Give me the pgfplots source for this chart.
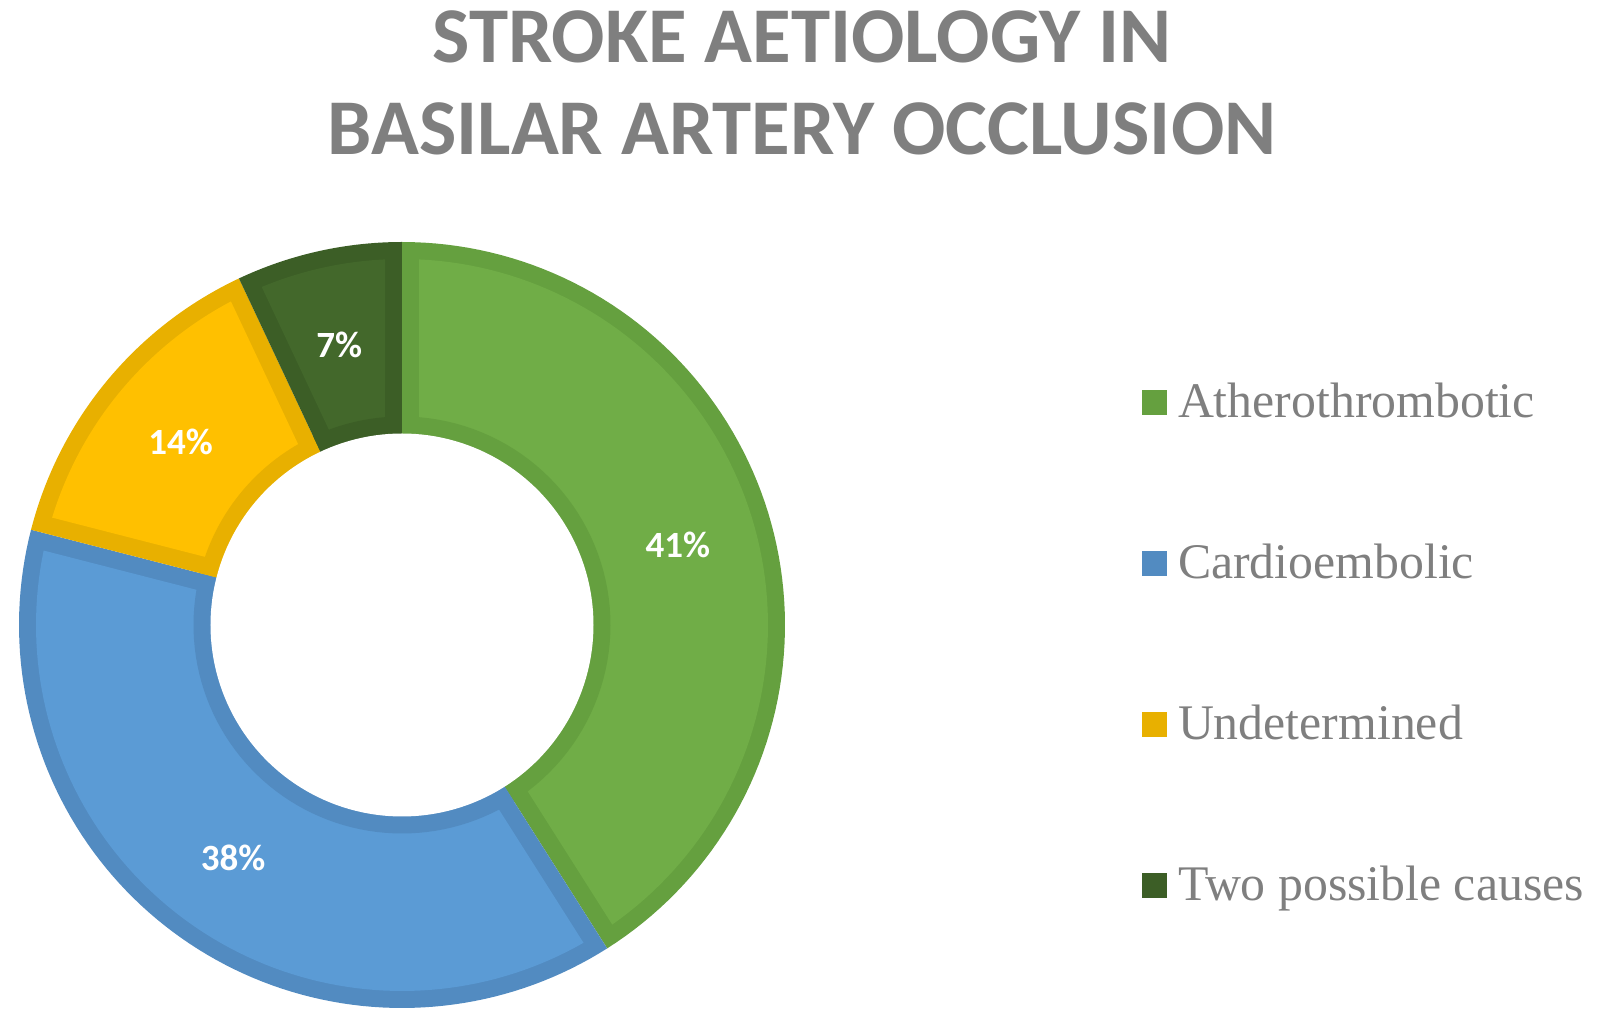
\documentclass[border=0pt]{standalone}
\usepackage{fontspec}
\setmainfont{Liberation Serif}
\newfontfamily\carlito{Carlito}
\usepackage{pgfplots}
\pgfplotsset{compat=1.18}
\usepgfplotslibrary{polar}

\definecolor{athFill}{HTML}{70AD47}
\definecolor{athLine}{HTML}{65A03F}
\definecolor{carFill}{HTML}{5B9BD5}
\definecolor{carLine}{HTML}{528BC1}
\definecolor{undFill}{HTML}{FFC000}
\definecolor{undLine}{HTML}{E8B000}
\definecolor{twoFill}{HTML}{43682B}
\definecolor{twoLine}{HTML}{3C5E26}
\definecolor{txt}{HTML}{7F7F7F}

% ring geometry, outer radius = 1
\def\rin{0.5}     % hole
\def\bw{0.0444}   % border width
\pgfmathsetmacro\dd{asin(\bw/(1-\bw))}

% slice from angle #1 to #2 (#1 < #2): fill #3, border #4
\newcommand\slice[4]{%
  \addplot[forget plot, draw=none, fill=#4, domain=#1:#2, samples=90]
    ({x},1) -- (axis cs:0,0) -- cycle;
  \addplot[forget plot, draw=none, fill=#3, domain={#1+\dd}:{#2-\dd}, samples=90]
    ({x},{1-\bw}) -- (axis cs:{(#1+#2)/2},{\bw/sin((#2-#1)/2)}) -- cycle;
  \addplot[forget plot, draw=none, fill=#4, domain=#1:#2, samples=60]
    ({x},{\rin+\bw}) -- (axis cs:0,0) -- cycle;
}

\begin{document}
\begin{tikzpicture}
\path[use as bounding box] (0,0) rectangle (805pt,510pt);
\begin{polaraxis}[
  hide axis, scale only axis, clip=false,
  width=383pt, height=383pt,
  ymin=0, ymax=1,
  at={(9.5pt,6pt)}, anchor=south west,
  legend style={draw=none, fill=none, at={(1.4661,0.8159)}, anchor=north west,
    inner sep=0pt, outer sep=0pt, row sep=61.5pt, column sep=5.5pt,
    nodes={inner sep=0pt, text height=17pt, text depth=2pt,
      font=\fontsize{24.9}{28}\selectfont, text=txt}},
  legend cell align=left,
  legend image code/.code={\fill[#1] (0pt,-6.25pt) rectangle (12.5pt,6.25pt);},
]
% 41, 38, 14, 7 percent, clockwise from the top
\slice{-57.6}{90}{athFill}{athLine}
\slice{-194.4}{-57.6}{carFill}{carLine}
\slice{-244.8}{-194.4}{undFill}{undLine}
\slice{-270}{-244.8}{twoFill}{twoLine}
\addplot[forget plot, draw=none, fill=white, domain=0:360, samples=181]
  ({x},\rin) -- cycle;

\addlegendimage{fill=athLine, draw=none}
\addlegendentry{Atherothrombotic}
\addlegendimage{fill=carLine, draw=none}
\addlegendentry{Cardioembolic}
\addlegendimage{fill=undLine, draw=none}
\addlegendentry{Undetermined}
\addlegendimage{fill=twoLine, draw=none}
\addlegendentry{Two possible causes}

\begin{scope}[every node/.style={font=\carlito\bfseries\fontsize{18.5}{20}\selectfont, text=white}]
\node at (axis cs:16.2,0.75) {41\%};
\node at (axis cs:-126,0.75) {38\%};
\node at (axis cs:-219.6,0.75) {14\%};
\node at (axis cs:-257.4,0.75) {7\%};
\end{scope}
\end{polaraxis}
\begin{scope}[every node/.style={anchor=base, inner sep=0pt, text=txt,
    font=\carlito\bfseries\fontsize{39.5}{46}\selectfont}]
\node at (401pt,478.5pt) {STROKE AETIOLOGY IN};
\node at (401pt,432.5pt) {BASILAR ARTERY OCCLUSION};
\end{scope}
\end{tikzpicture}
\end{document}
